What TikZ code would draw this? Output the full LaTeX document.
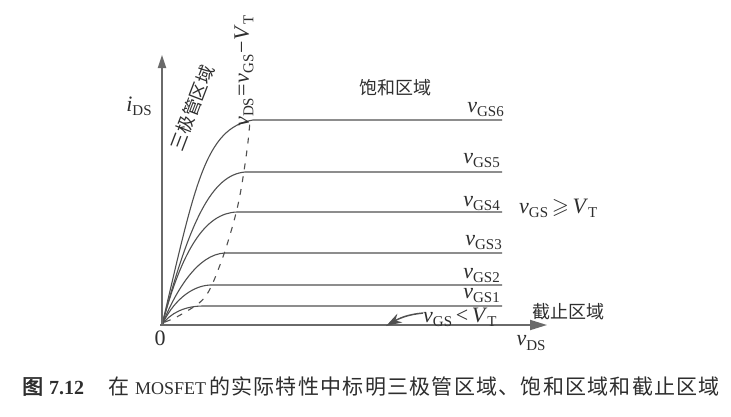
\documentclass[tikz,border=0pt]{standalone}
\usepackage{amssymb}
\usepackage{fontspec}
\setmainfont{Liberation Serif}
\newfontfamily\cjk{Noto Sans CJK SC}
\newfontfamily\cjkcap[LetterSpace=6]{Noto Sans CJK SC}
\newfontfamily\cjkb[FakeBold=2.5]{Noto Sans CJK SC}
\usetikzlibrary{arrows.meta}
\definecolor{ink}{HTML}{2E2E2E}
\definecolor{curve}{HTML}{505050}
\definecolor{axisc}{HTML}{6A6A6A}
\newcommand\vsub[2]{\textit{#1}\raisebox{-0.2em}{\fontsize{15}{15}\selectfont #2}}
\begin{document}
\begin{tikzpicture}[x=1pt,y=-1pt,
  lab/.style={inner sep=0pt,text=ink,font=\fontsize{22}{22}\selectfont},
  cjklab/.style={inner sep=0pt,text=ink,font=\fontsize{18}{18}\selectfont\cjk},
  chr/.style={curve,line width=1.1pt},
  axisline/.style={axisc,line width=1.8pt},
  sat/.style={curve,line width=1.1pt,dash pattern=on 6pt off 7pt}]
\useasboundingbox (0,0) rectangle (731,416);
\fill[white] (0,0) rectangle (731,416);
\coordinate (O) at (162,325);
\coordinate (ytip) at (162,55);
\coordinate (xtip) at (547,325);
% characteristic curves
\draw[chr] (O) .. controls (195,185) and (205,128) .. (253,120) -- (502,120);
\draw[chr] (O) .. controls (190,220) and (212,175) .. (245,172) -- (502,172);
\draw[chr] (O) .. controls (182,250) and (205,213) .. (237,212) -- (502,212);
\draw[chr] (O) .. controls (176,290) and (198,254) .. (225,253) -- (502,253);
\draw[chr] (O) .. controls (172,303) and (190,286) .. (210,285) -- (502,285);
\draw[chr] (O) .. controls (170,313) and (185,306) .. (203,306) -- (502,306);
% boundary v_DS = v_GS - V_T
\draw[sat] plot[smooth,tension=0.6] coordinates {(165,322) (182,314) (205,297) (220,265) (232,228) (240,195) (247,150) (250,121)};
% axes
\draw[axisline,-{Triangle[length=13pt,width=8pt]}] (162,326) -- (ytip);
\draw[axisline,-{Triangle[length=17pt,width=10pt]}] (160,325) -- (xtip);
% labels
\node[lab,anchor=base] (zero) at (160,345) {0};
\node[lab] (ids) at (139,106) {\vsub{i}{DS}};
\node[lab] (vds) at (531,343) {\vsub{v}{DS}};
\node[lab,anchor=base east] (g6) at (504,112) {\vsub{v}{GS6}};
\node[lab,anchor=base east] (g5) at (500,163) {\vsub{v}{GS5}};
\node[lab,anchor=base east] (g4) at (500,206) {\vsub{v}{GS4}};
\node[lab,anchor=base east] (g3) at (502,245) {\vsub{v}{GS3}};
\node[lab,anchor=base east] (g2) at (500,278) {\vsub{v}{GS2}};
\node[lab,anchor=base east] (g1) at (500,298) {\vsub{v}{GS1}};
\node[lab,anchor=base west] (von) at (519,213) {\vsub{v}{GS}\,$\geqslant$\,\vsub{V}{T}};
\node[lab,anchor=base west] (voff) at (423,322) {\vsub{v}{GS}\,<\,\vsub{V}{T}};
\coordinate (offtip) at (386,326);
\draw[curve,line width=1.5pt,-{Stealth[length=16pt,width=10pt]}] ([yshift=4pt]voff.west) to[out=185,in=30] (offtip);
\node[lab,rotate=90] (bnd) at (244,71) {\vsub{v}{DS}\kern1pt=\kern1pt\vsub{v}{GS}\kern1pt\textminus\kern1pt\vsub{V}{T}};
\node[cjklab,rotate=69] (tri) at (192,108) {三极管区域};
\node[cjklab] (satr) at (395,88) {饱和区域};
\node[cjklab] (cut) at (568,312) {截止区域};
% caption
\node[inner sep=0pt,text=ink,font=\fontsize{21}{21}\selectfont,anchor=base west] (cap) at (22,394)
  {{\cjkb 图}\hspace{6pt}{\fontsize{20}{20}\selectfont\bfseries 7.12}\hspace{24pt}{\cjk 在}\hspace{6pt}{\fontsize{18}{18}\selectfont MOSFET}\hspace{3pt}{\cjkcap 的实际特性中标明三极管区域、饱和区域和截止区域}};
\end{tikzpicture}
\end{document}
